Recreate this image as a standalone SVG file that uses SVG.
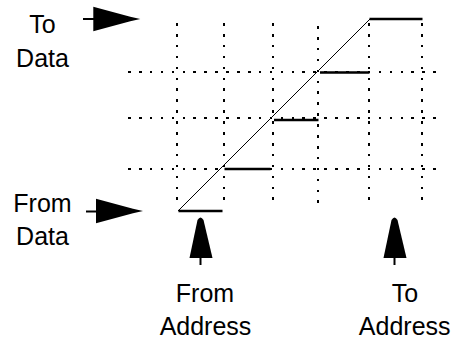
<svg xmlns="http://www.w3.org/2000/svg" xmlns:xlink="http://www.w3.org/1999/xlink" width="456" height="340" viewBox="0 0 456 340">
<style>
.lbl{font-family:"Liberation Sans",Arial,sans-serif;font-size:25px;fill:#000;text-anchor:middle}
.dot{stroke:#000;stroke-width:2.6;stroke-dasharray:2.6 8.3;fill:none;shape-rendering:crispEdges}
.step{stroke:#000;stroke-width:2.5;fill:none}
.diag{stroke:#000;stroke-width:1;fill:none}
.stem{stroke:#000;stroke-width:2;fill:none}
.head{fill:#000;stroke:none}
</style>
<defs>
<path id="hr" d="M0,-12.3 L37,-2.2 L47,0 L37,2.2 L0,12.3 Z"/>
<path id="up" d="M-3,2 Q0,-3 3,2 L12,40 L-11,40 Z"/>
</defs>
<rect width="456" height="340" fill="#fff"/>
<g id="grid">
<path class="dot" d="M177,23 V208 M224,23 V208 M273,23 V208 M318,26 V210 M369,23 V208 M422,23 V208"/>
<path class="dot" d="M128,72 H440 M128,118 H440 M128,169 H440"/>
</g>
<g id="connectors">
<path class="diag" d="M178,211 L370,19"/>
<path class="step" d="M178.5,211 H222.5 M224.5,169 H270.5 M274,120 H318.5 M320,72.5 H369.5 M369.5,19 H422.5"/>
<line class="stem" x1="83" y1="19" x2="95" y2="19"/>
<use xlink:href="#hr" class="head" transform="translate(93.3,19)"/>
<line class="stem" x1="86" y1="211.5" x2="98" y2="211.5"/>
<use xlink:href="#hr" class="head" transform="translate(96,211)"/>
<line class="stem" x1="200.5" y1="256" x2="200.5" y2="265"/>
<use xlink:href="#up" class="head" transform="translate(200.5,218)"/>
<line class="stem" x1="394.5" y1="256" x2="394.5" y2="265"/>
<use xlink:href="#up" class="head" transform="translate(394.5,218)"/>
</g>
<g id="to-data"><text class="lbl" x="42.5" y="32.5">To</text><text class="lbl" x="42.5" y="66.7">Data</text></g>
<g id="from-data"><text class="lbl" x="42.5" y="212.3">From</text><text class="lbl" x="42.5" y="245">Data</text></g>
<g id="from-address"><text class="lbl" x="205" y="302.3">From</text><text class="lbl" x="205.5" y="335">Address</text></g>
<g id="to-address"><text class="lbl" x="405" y="302.3">To</text><text class="lbl" x="404.7" y="335">Address</text></g>
</svg>
